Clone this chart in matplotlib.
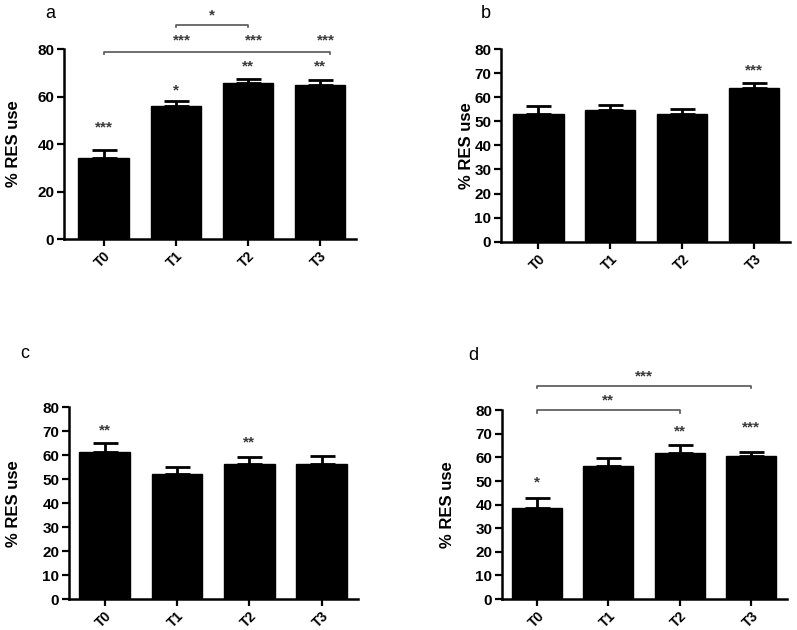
import matplotlib
matplotlib.use("Agg")
import matplotlib.pyplot as plt

plt.rcParams['font.family'] = ['Liberation Sans', 'DejaVu Sans']

categories = ["T0", "T1", "T2", "T3"]

a_means = [34.0, 56.0, 65.7, 64.8]
a_err = [3.3, 2.2, 1.7, 2.2]
b_means = [53.1, 54.8, 52.9, 63.9]
b_err = [3.2, 1.9, 2.1, 1.9]
c_means = [61.4, 52.4, 56.5, 56.5]
c_err = [3.6, 2.7, 2.7, 3.4]
d_means = [38.7, 56.4, 62.0, 60.6]
d_err = [4.3, 3.4, 3.2, 1.7]

# per-bar significance stars and their heights
a_stars = ["***", "*", "**", "**"]
a_star_y = [46.9, 62.7, 72.8, 72.8]
b_stars = ["", "", "", "***"]
b_star_y = [0, 0, 0, 71.3]
c_stars = ["**", "", "**", ""]
c_star_y = [70.5, 0, 65.5, 0]
d_stars = ["*", "", "**", "***"]
d_star_y = [49.5, 0, 71.2, 72.8]

# comparison brackets: (start, end, height, label)
a_brackets = [(0, 3.14, 78.9, ""), (1, 2, 90.1, "*")]
a_bracket_stars = [(1, 83.5, "***"), (2, 83.5, "***"), (3, 83.5, "***")]
d_brackets = [(0, 2, 80.0, "**"), (0, 3, 90.3, "***")]

panels = [
    dict(label="a", means=a_means, err=a_err, stars=a_stars, star_y=a_star_y,
         rect=[0.0803, 0.6206, 0.3664, 0.3016], xlim=(-0.55, 3.5), ystep=20,
         brackets=a_brackets, extra=a_bracket_stars, lab=(50, 13), ylab_x=14),
    dict(label="b", means=b_means, err=b_err, stars=b_stars, star_y=b_star_y,
         rect=[0.6286, 0.6163, 0.3626, 0.3059], xlim=(-0.52, 3.5), ystep=10,
         brackets=[], extra=[], lab=(486, 13), ylab_x=466),
    dict(label="c", means=c_means, err=c_err, stars=c_stars, star_y=c_star_y,
         rect=[0.0866, 0.0487, 0.3626, 0.3048], xlim=(-0.49, 3.5), ystep=10,
         brackets=[], extra=[], lab=(25, 354), ylab_x=14),
    dict(label="d", means=d_means, err=d_err, stars=d_stars, star_y=d_star_y,
         rect=[0.6299, 0.0492, 0.3576, 0.2995], xlim=(-0.49, 3.5), ystep=10,
         brackets=d_brackets, extra=[], lab=(473, 355), ylab_x=448),
]

W, H = 797, 630
fig = plt.figure(figsize=(W / 100, H / 100), dpi=100)

star_color = "#3a3a3a"
br_color = "#555555"
star_kw = dict(ha="center", va="center", fontsize=11, fontweight="bold",
               color=star_color, clip_on=False)

for p in panels:
    ax = fig.add_axes(p["rect"])
    x = list(range(len(categories)))
    ax.bar(x, p["means"], width=0.7, color="black", edgecolor="black", zorder=2)
    ax.errorbar(x, p["means"], yerr=[[0] * 4, p["err"]], fmt="none", ecolor="black",
                elinewidth=2, capsize=9, capthick=2, zorder=1)
    ax.set_xlim(*p["xlim"])
    ax.set_ylim(0, 80)
    ax.set_yticks(list(range(0, 81, p["ystep"])))
    ax.set_xticks(x)
    ax.set_xticklabels(categories, rotation=45, ha="right", rotation_mode="anchor",
                       fontsize=10, fontweight="bold")
    for t in ax.get_yticklabels():
        t.set_fontsize(11)
        t.set_fontweight("bold")
    for s in ["top", "right"]:
        ax.spines[s].set_visible(False)
    for s in ["left", "bottom"]:
        ax.spines[s].set_linewidth(1.8)
    ax.tick_params(direction="out", length=5, width=1.6, pad=2)
    ax.tick_params(axis="x", pad=2)

    for i, (s, yy) in enumerate(zip(p["stars"], p["star_y"])):
        if s:
            ax.text(i, yy, s, **star_kw)
    for (x0, x1, yy, lab) in p["brackets"]:
        ax.plot([x0, x0, x1, x1], [yy - 1.0, yy, yy, yy - 1.0], color=br_color, lw=1.2,
                clip_on=False)
        if lab:
            ax.text((x0 + x1) / 2, yy + 4.0, lab, **star_kw)
    for (xi, yy, lab) in p["extra"]:
        ax.text(xi + 0.08, yy, lab, **star_kw)

    fig.text(p["lab"][0] / W, 1 - p["lab"][1] / H, p["label"], fontsize=13,
             ha="center", va="center")
    r = p["rect"]
    fig.text(p["ylab_x"] / W, r[1] + r[3] / 2, "% RES use", rotation=90,
             ha="center", va="center", fontsize=12, fontweight="bold")

fig.savefig("out.png", dpi=100)
